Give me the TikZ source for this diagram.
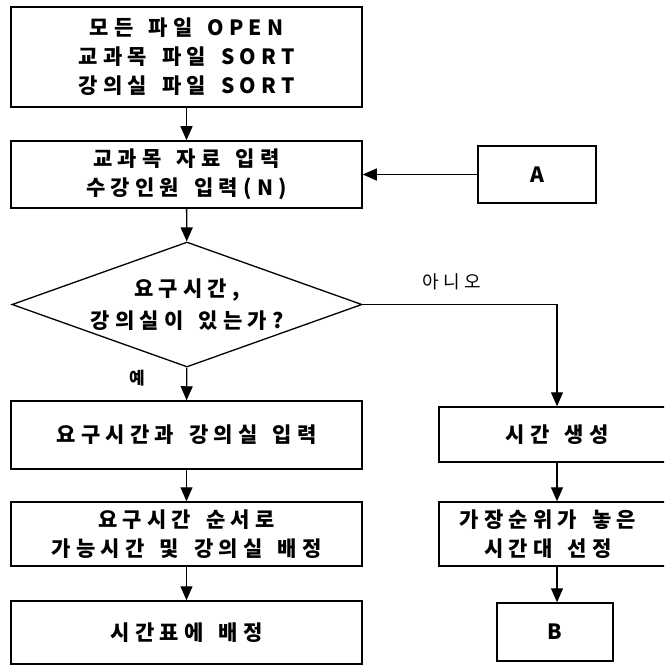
\documentclass[tikz,border=0pt]{standalone}
\usepackage{fontspec}
\usetikzlibrary{arrows.meta,shapes.geometric}
\newfontfamily\kr{Noto Sans CJK KR}[LetterSpace=25,WordSpace=1.5]
\tikzset{
  box/.style={draw,line width=1.5pt,inner sep=0pt,align=center,
    font=\kr\bfseries\fontsize{21}{29}\selectfont},
  dia/.style={draw,diamond,line width=1.3pt,inner sep=0pt,aspect=2.8,align=center,
    font=\kr\bfseries\fontsize{21}{32}\selectfont},
  arr/.style={line width=1.3pt,-{Triangle[length=14pt,width=12pt]}},
  lbl/.style={inner sep=0pt,font=\kr\fontsize{18}{18}\selectfont}
}
\begin{document}
\begin{tikzpicture}[x=1pt,y=-1pt]
\clip (0,0) rectangle (664,666);
\fill[white] (0,0) rectangle (664,666);
\node[box,minimum width=351pt,minimum height=100pt] (b1) at (186.5,57) {모든 파일 OPEN\\교과목 파일 SORT\\강의실 파일 SORT};
\node[box,minimum width=351pt,minimum height=67pt] (b2) at (186.5,174.5) {교과목 자료 입력\\수강인원 입력(N)};
\node[box,minimum width=118pt,minimum height=57pt] (a) at (537,174.5) {A};
\node[dia,minimum width=350pt,minimum height=125pt] (d) at (187,304.5) {요구시간,\\강의실이 있는가?};
\node[box,minimum width=351pt,minimum height=68pt] (b3) at (186.5,435) {요구시간과 강의실 입력};
\node[box,minimum width=351pt,minimum height=64pt] (b4) at (186.5,534) {요구시간 순서로\\가능시간 및 강의실 배정};
\node[box,minimum width=351pt,minimum height=63pt] (b5) at (186.5,632.5) {시간표에 배정};
\node[box,minimum width=236pt,minimum height=55pt] (r1) at (557,434.5) {시간 생성};
\node[box,minimum width=236pt,minimum height=64pt] (r2) at (557,534) {\hspace*{-18pt}가장순위가 놓은\\\hspace*{-18pt}시간대 선정};
\node[box,minimum width=116pt,minimum height=58pt] (bb) at (555,632) {B};
\draw[arr] (b1) -- (b2);
\draw[arr] (b2) -- (d);
\draw[arr] (a) -- (b2);
\draw[arr] (d) -- (b3);
\draw[arr] (d.east) -| (r1.north);
\draw[arr] (b3) -- (b4);
\draw[arr] (b4) -- (b5);
\draw[arr] (r1) -- (r2);
\draw[arr] (r2) -- (r2 |- bb.north);
\node[lbl,font=\kr\bfseries\fontsize{17}{18}\selectfont] (yes) at (137,378) {예};
\node[lbl] (no) at (452,282) {아니오};
\end{tikzpicture}
\end{document}
